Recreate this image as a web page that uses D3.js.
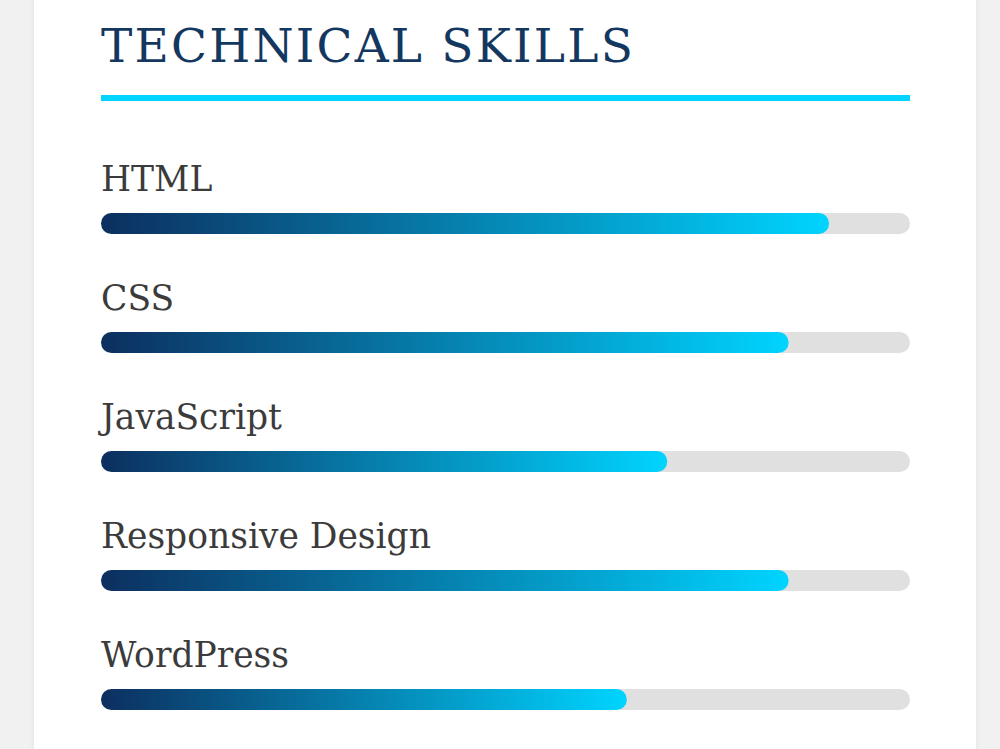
<!DOCTYPE html>
<html>
<head>
<meta charset="utf-8">
<script src="https://cdn.jsdelivr.net/npm/d3@7"></script>
<style>
  html, body { margin: 0; padding: 0; background: #f1f1f1; }
  svg { display: block; }
</style>
</head>
<body>
<script>
// skill names and levels (percent)
var skills = ["HTML", "CSS", "JavaScript", "Responsive Design", "WordPress"];
var levels = [90, 85, 70, 85, 65];
var title = "TECHNICAL SKILLS";

var width = 1000, height = 749;
var left = 101, right = 910;

var svg = d3.select("body").append("svg")
    .attr("width", width)
    .attr("height", height);

var defs = svg.append("defs");
var grad = defs.append("linearGradient").attr("id", "barGrad");
grad.append("stop").attr("offset", "0%").attr("stop-color", "#0c2f5f");
grad.append("stop").attr("offset", "100%").attr("stop-color", "#00d4ff");

var shadow = defs.append("filter").attr("id", "cardShadow")
    .attr("x", "-5%").attr("y", "-5%").attr("width", "110%").attr("height", "110%");
shadow.append("feDropShadow").attr("dx", 0).attr("dy", 0)
    .attr("stdDeviation", 3).attr("flood-color", "#000").attr("flood-opacity", 0.06);

// white card
svg.append("rect")
    .attr("x", 34).attr("y", -20)
    .attr("width", 942).attr("height", height + 40)
    .attr("fill", "#fff")
    .attr("filter", "url(#cardShadow)");

// title
svg.append("text")
    .attr("x", left).attr("y", 62)
    .attr("fill", "#13375f")
    .style("font-family", "'DejaVu Serif', serif")
    .style("font-size", "47px")
    .style("letter-spacing", "2.2px")
    .text(title);

svg.append("rect")
    .attr("x", left).attr("y", 95)
    .attr("width", right - left).attr("height", 6)
    .attr("fill", "#00d4ff");

var x = d3.scaleLinear().domain([0, 100]).range([0, right - left]);
var y = d3.scaleBand().domain(skills).range([154, 749]);

var barH = 21;

var row = svg.selectAll(".skill")
    .data(skills)
    .enter().append("g")
    .attr("class", "skill")
    .attr("transform", function(d) { return "translate(" + left + "," + y(d) + ")"; });

row.append("text")
    .attr("x", 0).attr("y", 37)
    .attr("fill", "#3b3b3b")
    .style("font-family", "'DejaVu Serif', serif")
    .style("font-size", "34.5px")
    .text(function(d) { return d; });

row.append("rect")
    .attr("y", 59)
    .attr("width", x(100)).attr("height", barH)
    .attr("rx", barH / 2)
    .attr("fill", "#e0e0e0");

row.append("rect")
    .attr("y", 59)
    .attr("width", function(d, i) { return x(levels[i]); })
    .attr("height", barH)
    .attr("rx", barH / 2)
    .attr("fill", "url(#barGrad)");
</script>
</body>
</html>
